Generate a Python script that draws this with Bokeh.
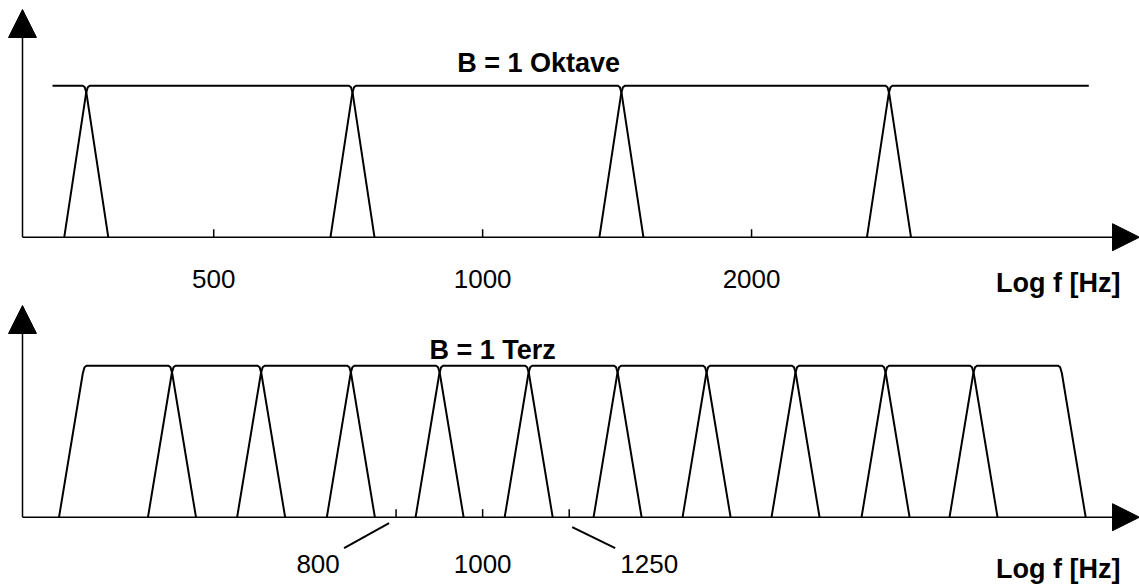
import math

from bokeh.core.properties import value
from bokeh.embed import file_html
from bokeh.layouts import column
from bokeh.models import Arrow, NormalHead
from bokeh.plotting import figure
from bokeh.resources import INLINE

# Octave filter bank: crossover frequencies (Hz) and the ends of the drawn passband line
octave_crossovers = [360, 715, 1430, 2850]
octave_line_ends = [330, 4770]
octave_ticks = [500, 1000, 2000]
octave_tick_labels = ["500", "1000", "2000"]

# Third-octave filter bank: band edges (Hz) from the lowest to the highest band
terz_edges = [357, 449, 565, 712, 895, 1126, 1416, 1781, 2240, 2825, 3544, 4448]
terz_ticks = [800, 1000, 1250]
terz_tick_labels = ["800", "1000", "1250"]

W = 1139
H_TOP, H_BOTTOM = 300, 286
F_MIN, F_MAX = 288.6, 5436.0
PX_PER_OCT = W / math.log2(F_MAX / F_MIN)
PX_PER_UNIT = 151.5
FONT = "Liberation Sans"
INK = "black"


def shift(f, px):
    """Frequency that lies px screen pixels right of f on the log axis."""
    return f * 2 ** (px / PX_PER_OCT)


def edge(f, skirt_px, rising):
    # filter skirt near a band edge: (pixel offset from the edge, level)
    prof = [(-skirt_px, 0.0), (-0.2, 0.95), (1.5, 0.99), (3.5, 1.0)]
    if not rising:
        prof = [(-dx, y) for dx, y in reversed(prof)]
    return [shift(f, dx) for dx, _ in prof], [y for _, y in prof]


def band(lo, hi, skirt_px, lo_open=False, hi_open=False):
    xs, ys = [], []
    if lo_open:
        xs.append(lo); ys.append(1.0)
    else:
        ex, ey = edge(lo, skirt_px, True)
        xs += ex; ys += ey
    if hi_open:
        xs.append(hi); ys.append(1.0)
    else:
        ex, ey = edge(hi, skirt_px, False)
        xs += ex; ys += ey
    return xs, ys


def panel(height, baseline_px, arrow_tip_px, unit_label_offset):
    p = figure(width=W, height=height, x_axis_type="log",
               x_axis_location=None, y_axis_location=None,
               x_range=(F_MIN, F_MAX),
               y_range=(-(height - baseline_px) / PX_PER_UNIT, baseline_px / PX_PER_UNIT),
               output_backend="svg", toolbar_location=None, min_border=0)
    p.grid.visible = False
    p.outline_line_color = None
    p.background_fill_color = "white"
    p.border_fill_color = "white"

    y_axis_f = shift(F_MIN, 22)
    p.add_layout(Arrow(end=NormalHead(size=27, fill_color=INK, line_color=INK, line_width=1),
                       x_start=y_axis_f, y_start=0, x_end=F_MAX, y_end=0,
                       line_color=INK, line_width=1.5))
    p.add_layout(Arrow(end=NormalHead(size=28, fill_color=INK, line_color=INK, line_width=1),
                       x_start=y_axis_f, y_start=0, x_end=y_axis_f,
                       y_end=(baseline_px - arrow_tip_px) / PX_PER_UNIT,
                       line_color=INK, line_width=1.5))
    p.text(x=[F_MAX], y=[0], text=["Log f [Hz]"], x_offset=-19,
           y_offset=unit_label_offset,
           text_align="right", text_baseline="middle", text_color=INK,
           text_font=value(FONT), text_font_style="bold", text_font_size="27px")
    return p


def ticks(p, values):
    p.segment(x0=values, y0=[0] * len(values), x1=values,
              y1=[8 / PX_PER_UNIT] * len(values), line_color=INK, line_width=1.5)


# ---- Octave panel ----
p1 = panel(H_TOP, 236.7, 9, 46)
bounds = [octave_line_ends[0]] + octave_crossovers + [octave_line_ends[1]]
xs1, ys1 = [], []
for i in range(len(bounds) - 1):
    bx, by = band(bounds[i], bounds[i + 1], 22,
                  lo_open=(i == 0), hi_open=(i == len(bounds) - 2))
    xs1.append(bx); ys1.append(by)
p1.multi_line(xs=xs1, ys=ys1, line_color=INK, line_width=2)
ticks(p1, octave_ticks)
p1.text(x=octave_ticks, y=[0] * 3, text=octave_tick_labels, y_offset=42,
        text_align="center", text_baseline="middle", text_color=INK,
        text_font=value(FONT), text_font_size="26px")
p1.text(x=[1155], y=[1.153], text=["B = 1 Oktave"], text_align="center",
        text_baseline="middle", text_color=INK, text_font=value(FONT),
        text_font_style="bold", text_font_size="27px")

# ---- Third-octave panel ----
p2 = panel(H_BOTTOM, 216.7, 5, 52)
xs2, ys2 = [], []
for i in range(len(terz_edges) - 1):
    bx, by = band(terz_edges[i], terz_edges[i + 1], 24)
    xs2.append(bx); ys2.append(by)
p2.multi_line(xs=xs2, ys=ys2, line_color=INK, line_width=2)
ticks(p2, terz_ticks)
p2.text(x=terz_ticks, y=[0] * 3, text=terz_tick_labels,
        x_offset=[-78, 0, 80], y_offset=47,
        text_align="center", text_baseline="middle", text_color=INK,
        text_font=value(FONT), text_font_size="26px")
# leader lines from the outer ticks to their labels (pixel offsets)
lead_from = [(-7, 6), (3, 10)]
lead_to = [(-52, 31), (46, 31)]
outer = [terz_ticks[0], terz_ticks[2]]
p2.segment(x0=[shift(f, a[0]) for f, a in zip(outer, lead_from)],
           y0=[-a[1] / PX_PER_UNIT for a in lead_from],
           x1=[shift(f, b[0]) for f, b in zip(outer, lead_to)],
           y1=[-b[1] / PX_PER_UNIT for b in lead_to],
           line_color=INK, line_width=2)
p2.text(x=[1026], y=[(216.7 - 49) / PX_PER_UNIT], text=["B = 1 Terz"], text_align="center",
        text_baseline="middle", text_color=INK, text_font=value(FONT),
        text_font_style="bold", text_font_size="27px")

layout = column(p1, p2, spacing=0)
open("out.html", "w").write(file_html(layout, INLINE))
